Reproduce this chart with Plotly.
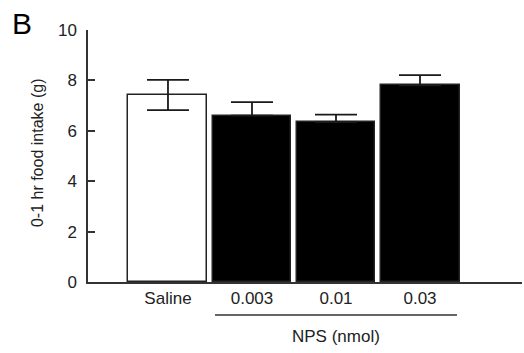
import plotly.graph_objects as go

categories = ["Saline", "0.003", "0.01", "0.03"]
means = [7.42, 6.6, 6.35, 7.8]
sem = [0.6, 0.54, 0.29, 0.41]
fill_colors = ["white", "black", "black", "black"]
y_ticks = [0, 2, 4, 6, 8, 10]

xpos = list(range(len(categories)))
xmin, xmax = -0.952, 4.214

# lower whisker only visible on the open (white) bar
sem_minus = [s if c == "white" else 0 for s, c in zip(sem, fill_colors)]

fig = go.Figure()
fig.add_trace(go.Bar(
    x=xpos, y=means, width=0.94,
    marker=dict(color=fill_colors, line=dict(color="#222", width=1.5)),
    error_y=dict(type="data", array=sem, arrayminus=sem_minus, visible=True,
                 color="#1a1a1a", thickness=1.8, width=21),
    showlegend=False,
))

def px(v):
    return (v - xmin) / (xmax - xmin)

fig.add_shape(type="line", xref="paper", yref="paper",
              x0=px(0.56), x1=px(3.44), y0=-0.131, y1=-0.131,
              line=dict(color="#333", width=1.5))
fig.add_annotation(x=2, y=-0.218, xref="x", yref="paper", text="NPS (nmol)",
                   showarrow=False, font=dict(size=17, color="#222"),
                   xanchor="center", yanchor="middle")
fig.add_annotation(x=-0.152, y=1.025, xref="paper", yref="paper", text="B",
                   showarrow=False, font=dict(size=30, color="black"),
                   xanchor="center", yanchor="middle")
fig.add_annotation(x=-0.115, y=0.512, xref="paper", yref="paper",
                   text="0-1 hr food intake (g)", textangle=-90,
                   showarrow=False, font=dict(size=16, color="#222"),
                   xanchor="center", yanchor="middle")

fig.update_layout(
    width=524, height=353,
    margin=dict(l=88, r=2, t=30, b=71),
    paper_bgcolor="white", plot_bgcolor="white",
    font=dict(family="Liberation Sans, Arial", color="#222"),
    bargap=0,
)
fig.update_xaxes(
    range=[xmin, xmax], tickvals=xpos, ticktext=categories,
    showline=True, linecolor="#333", linewidth=1.5, ticks="",
    showgrid=False, zeroline=False, tickfont=dict(size=17),
    automargin=False,
)
fig.update_yaxes(
    range=[0, 10], tickvals=y_ticks, showline=True, linecolor="#333",
    linewidth=1.5, ticks="inside", ticklen=7, tickwidth=1.5, tickcolor="#333",
    showgrid=False, zeroline=False, tickfont=dict(size=17),
    ticklabelstandoff=6, automargin=False,
)
fig.write_html("out.html", config={"displayModeBar": False},
               post_script="document.body.style.margin='0';document.body.style.overflow='hidden';")
